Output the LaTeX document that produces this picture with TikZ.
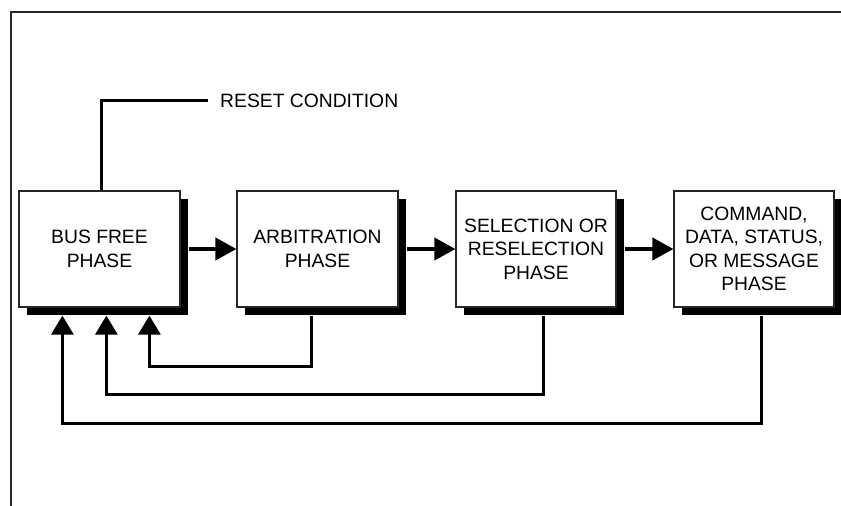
\documentclass[tikz,border=0pt]{standalone}
\usepackage{fontspec}
\setmainfont{Liberation Sans}
\usetikzlibrary{arrows.meta}
\begin{document}
\begin{tikzpicture}[x=1pt,y=1pt,
  phasebox/.style={draw=black!85, line width=1.2pt, fill=white, rectangle,
    minimum height=116pt, inner sep=0pt, align=center,
    font=\fontsize{19.3}{23.5}\selectfont,
    preaction={fill=black, transform canvas={shift={(8pt,-8pt)}}}},
  fwd/.style={line width=4pt, -{Triangle[length=21pt,width=22pt]}},
  fb/.style={line width=3pt, -{Triangle[length=19pt,width=22pt]}},
  lbl/.style={font=\fontsize{19.3}{23.5}\selectfont, inner sep=0pt}]
\useasboundingbox (0,0) rectangle (841,506);
\draw[line width=2pt, black!85] (11,0) -- (11,494) -- (845,494);

\node[phasebox, minimum width=161pt] (b1) at (99.5,257) {BUS FREE\\PHASE};
\node[phasebox, minimum width=161pt] (b2) at (317.5,257) {ARBITRATION\\PHASE};
\node[phasebox, minimum width=160pt] (b3) at (536,257) {SELECTION OR\\RESELECTION\\PHASE};
\node[phasebox, minimum width=160pt] (b4) at (754,257) {COMMAND,\\DATA, STATUS,\\OR MESSAGE\\PHASE};

\node[lbl, anchor=west] (reset) at (220,405) {RESET CONDITION};
\coordinate (resetend) at ([xshift=-12pt]reset.west);
\draw[line width=3pt] ([xshift=1.5pt]b1.north) |- (resetend);

\draw[fwd] ([xshift=8pt]b1.east) -- (b2.west);
\draw[fwd] ([xshift=8pt]b2.east) -- (b3.west);
\draw[fwd] ([xshift=8pt]b3.east) -- (b4.west);

\draw[fb] ([shift={(75pt,-8pt)}]b2.south west) -- ++(0,-51) -| ([shift={(131pt,-8pt)}]b1.south west);
\draw[fb] ([shift={(88pt,-8pt)}]b3.south west) -- ++(0,-79) -| ([shift={(88pt,-8pt)}]b1.south west);
\draw[fb] ([shift={(88pt,-8pt)}]b4.south west) -- ++(0,-108) -| ([shift={(44pt,-8pt)}]b1.south west);
\end{tikzpicture}
\end{document}
